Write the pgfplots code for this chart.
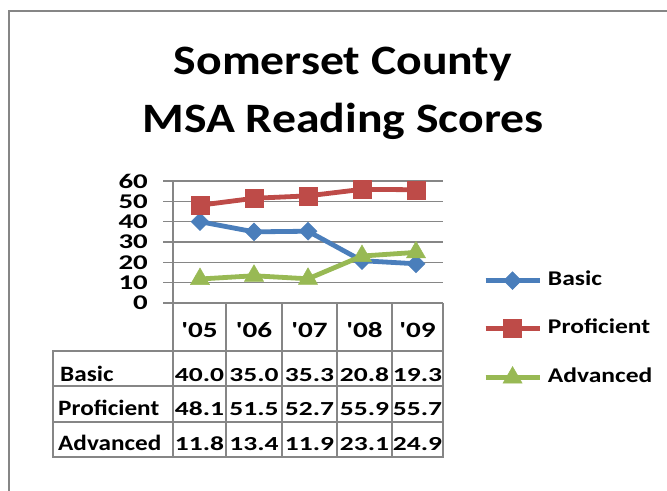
\documentclass[border=0pt]{standalone}
\usepackage{fontspec}
\setmainfont{Carlito}[Ligatures=TeXOff]
\usepackage{graphicx}
\usepackage{pgfplots}
\pgfplotsset{compat=1.18}
\definecolor{cbasic}{RGB}{74,126,187}
\definecolor{cprof}{RGB}{190,75,72}
\definecolor{cadv}{RGB}{152,185,84}
\definecolor{gline}{RGB}{134,134,134}
\newcommand{\sx}[2]{\scalebox{#1}[1]{#2}}
\begin{document}
\begin{tikzpicture}[x=1bp,y=1bp]
\useasboundingbox (0,0) rectangle (667,-491);
\fill[white] (0,0) rectangle (667,-491);
\draw[gline, line width=2bp] (9,-491) -- (9,-11) -- (667,-11);
\node[font=\bfseries\fontsize{42}{42}\selectfont, anchor=base, inner sep=0pt] at (343,-75) {\sx{1.14}{Somerset County}};
\node[font=\bfseries\fontsize{42}{42}\selectfont, anchor=base, inner sep=0pt] at (343,-133) {\sx{1.14}{MSA Reading Scores}};
\begin{axis}[
  at={(173bp,-303bp)}, anchor=south west,
  scale only axis, width=270bp, height=122bp,
  xmin=-0.5, xmax=4.5, ymin=0, ymax=60,
  ytick={0,10,...,60}, xtick=\empty,
  axis lines*=left,
  axis line style={gline, line width=1.5bp},
  ymajorgrids, grid style={gline, line width=1.5bp},
  tick align=outside, major tick length=10bp,
  y tick style={gline, line width=1.5bp},
  /pgf/number format/assume math mode=true,
  yticklabel={\sx{1.38}{\pgfmathprintnumber{\tick}}},
  yticklabel style={font=\bfseries\fontsize{21}{21}\selectfont, inner sep=0pt, anchor=east, xshift=-15bp},
  clip=false,
  legend style={draw=none, fill=none, at={(1.148,0.259)}, anchor=north west, inner sep=0pt,
    row sep=29.5bp, column sep=6bp,
    nodes={inner sep=0pt, text height=14bp, text depth=4bp, font=\bfseries\fontsize{21}{21}\selectfont}},
  legend cell align=left,
  legend image code/.code={\draw[#1, mark repeat=2, mark phase=2] plot coordinates {(0bp,0bp) (27bp,0bp) (54bp,0bp)};},
]
\addplot[cbasic, line width=4.8bp, mark=square*, mark size=6.3bp, mark options={solid, rotate=45, fill=cbasic, line width=0.5bp}]
  coordinates {(0,40.0) (1,35.0) (2,35.3) (3,20.8) (4,19.3)};
\addlegendentry{\sx{1.22}{Basic}}
\addplot[cprof, line width=4.8bp, mark=square*, mark size=9bp, mark options={solid, fill=cprof, line width=0.5bp}]
  coordinates {(0,48.1) (1,51.5) (2,52.7) (3,55.9) (4,55.7)};
\addlegendentry{\sx{1.22}{Proficient}}
\addplot[cadv, line width=4.8bp, mark=triangle*, mark size=11bp, mark options={solid, fill=cadv, line width=0.5bp}]
  coordinates {(0,11.8) (1,13.4) (2,11.9) (3,23.1) (4,24.9)};
\addlegendentry{\sx{1.22}{Advanced}}
\end{axis}
% data table
\begin{scope}[gline, line width=1.5bp]
\draw (53,-351) rectangle (443,-457);
\draw (53,-386) -- (443,-386);
\draw (53,-422) -- (443,-422);
\foreach \x in {173,226,282,337,392,443} \draw (\x,-303) -- (\x,-457);
\end{scope}
\begin{scope}[inner sep=0pt]
\begin{scope}[font=\bfseries\fontsize{22}{22}\selectfont]
\foreach \lab/\x in {{'05}/199.5,{'06}/254,{'07}/309.5,{'08}/364.5,{'09}/417.5}
  \node[anchor=base] at (\x,-337) {\sx{1.33}{\lab}};
\end{scope}
\begin{scope}[font=\bfseries\fontsize{22}{22}\selectfont]
\node[anchor=base west] at (60,-381) {\sx{1.15}{Basic}};
\node[anchor=base west] at (58,-415) {\sx{1.15}{Proficient}};
\node[anchor=base west] at (58,-450) {\sx{1.15}{Advanced}};
\end{scope}
\begin{scope}[font=\bfseries\fontsize{20}{20}\selectfont]
\foreach \v/\x in {40.0/199.5,35.0/254,35.3/309.5,20.8/364.5,19.3/417.5}
  \node[anchor=base] at (\x,-381) {\sx{1.38}{\v}};
\foreach \v/\x in {48.1/199.5,51.5/254,52.7/309.5,55.9/364.5,55.7/417.5}
  \node[anchor=base] at (\x,-415) {\sx{1.38}{\v}};
\foreach \v/\x in {11.8/199.5,13.4/254,11.9/309.5,23.1/364.5,24.9/417.5}
  \node[anchor=base] at (\x,-450) {\sx{1.38}{\v}};
\end{scope}
\end{scope}
\end{tikzpicture}
\end{document}
